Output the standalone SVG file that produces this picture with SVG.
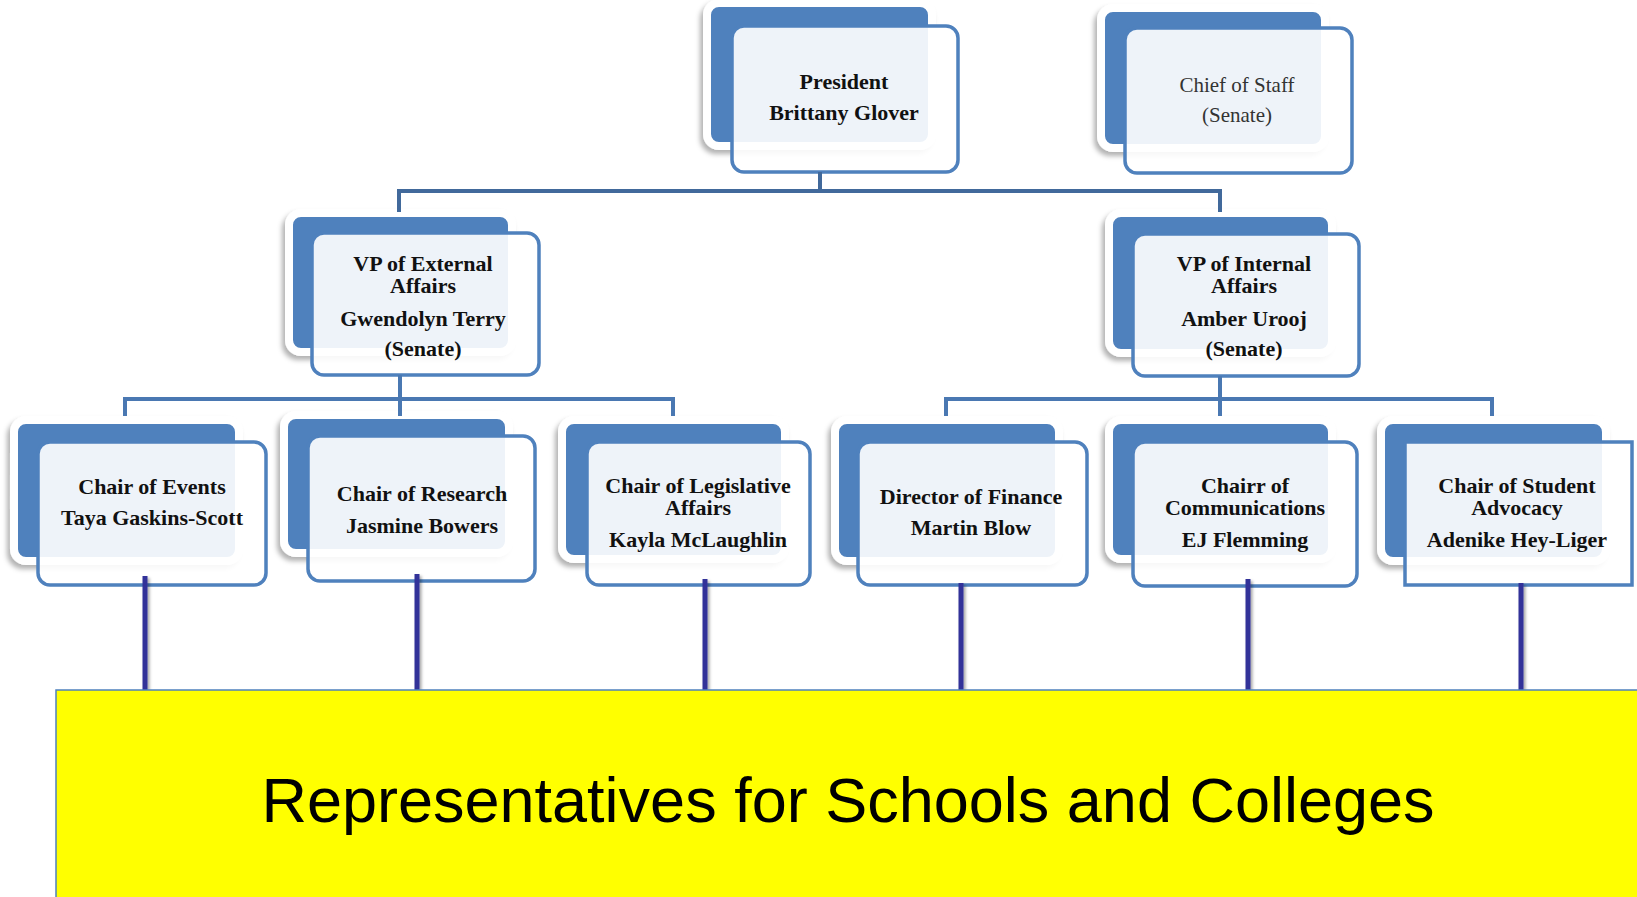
<svg xmlns="http://www.w3.org/2000/svg" width="1637" height="897" viewBox="0 0 1637 897">
<defs>
<filter id="sh" x="-10%" y="-10%" width="120%" height="125%">
<feDropShadow dx="-3" dy="4" stdDeviation="2.5" flood-color="#000" flood-opacity="0.3"/>
</filter>
<filter id="lsh" filterUnits="userSpaceOnUse" x="0" y="500" width="1637" height="250">
<feDropShadow dx="2" dy="2" stdDeviation="1.5" flood-color="#000" flood-opacity="0.35"/>
</filter>
</defs>
<style>
.back{fill:#4F81BD;stroke:#fff;stroke-width:8;filter:url(#sh)}
.front{fill:#fff;fill-opacity:0.9;stroke:#4F81BD;stroke-width:3.5}
.t{font-family:"Liberation Serif",serif;font-size:22px;font-weight:bold;fill:#111;text-anchor:middle}
.r{font-family:"Liberation Serif",serif;font-size:21px;fill:#333;text-anchor:middle}
.tree{fill:none;stroke:#4A78B2;stroke-width:4}
.tree0{fill:none;stroke:#41699B;stroke-width:4}
.rep{fill:#333399}
</style>
<rect width="1637" height="897" fill="#fff"/>

<g id="president">
<rect class="back" x="707" y="3" width="225" height="143" rx="12"/>
<rect class="front" x="732" y="26" width="226" height="146" rx="12"/>
<text class="t" x="844" y="89">President</text>
<text class="t" x="844" y="120">Brittany Glover</text>
</g>

<g id="chief-of-staff">
<rect class="back" x="1101" y="8" width="224" height="140" rx="12"/>
<rect class="front" x="1125" y="28" width="227" height="145" rx="12"/>
<text class="r" x="1237" y="92">Chief of Staff</text>
<text class="r" x="1237" y="122">(Senate)</text>
</g>

<g id="vp-external">
<rect class="back" x="289" y="213" width="223" height="139" rx="12"/>
<rect class="front" x="312" y="233" width="227" height="142" rx="12"/>
<text class="t" x="423" y="271">VP of External</text>
<text class="t" x="423" y="293">Affairs</text>
<text class="t" x="423" y="326">Gwendolyn Terry</text>
<text class="t" x="423" y="356">(Senate)</text>
</g>

<g id="vp-internal">
<rect class="back" x="1109" y="213" width="223" height="140" rx="12"/>
<rect class="front" x="1133" y="234" width="226" height="142" rx="12"/>
<text class="t" x="1244" y="271">VP of Internal</text>
<text class="t" x="1244" y="293">Affairs</text>
<text class="t" x="1244" y="326">Amber Urooj</text>
<text class="t" x="1244" y="356">(Senate)</text>
</g>

<g id="chair-events">
<rect class="back" x="14" y="420" width="225" height="141" rx="12"/>
<rect class="front" x="38" y="442" width="228" height="143" rx="12"/>
<text class="t" x="152" y="494">Chair of Events</text>
<text class="t" x="152" y="525">Taya Gaskins-Scott</text>
</g>

<g id="chair-research">
<rect class="back" x="284" y="415" width="225" height="138" rx="12"/>
<rect class="front" x="308" y="436" width="227" height="145" rx="12"/>
<text class="t" x="422" y="501">Chair of Research</text>
<text class="t" x="422" y="533">Jasmine Bowers</text>
</g>

<g id="chair-legislative">
<rect class="back" x="562" y="420" width="223" height="139" rx="12"/>
<rect class="front" x="587" y="442" width="223" height="143" rx="12"/>
<text class="t" x="698" y="493">Chair of Legislative</text>
<text class="t" x="698" y="515">Affairs</text>
<text class="t" x="698" y="547">Kayla McLaughlin</text>
</g>

<g id="director-finance">
<rect class="back" x="835" y="420" width="224" height="141" rx="12"/>
<rect class="front" x="858" y="442" width="229" height="143" rx="12"/>
<text class="t" x="971" y="504">Director of Finance</text>
<text class="t" x="971" y="535">Martin Blow</text>
</g>

<g id="chair-communications">
<rect class="back" x="1109" y="420" width="223" height="139" rx="12"/>
<rect class="front" x="1133" y="442" width="224" height="144" rx="12"/>
<text class="t" x="1245" y="493">Chairr of</text>
<text class="t" x="1245" y="515">Communications</text>
<text class="t" x="1245" y="547">EJ Flemming</text>
</g>

<g id="chair-advocacy">
<rect class="back" x="1381" y="420" width="225" height="141" rx="12"/>
<rect class="front" x="1405" y="442" width="227" height="143"/>
<text class="t" x="1517" y="493">Chair of Student</text>
<text class="t" x="1517" y="515">Advocacy</text>
<text class="t" x="1517" y="547">Adenike Hey-Liger</text>
</g>

<g id="connectors">
<path class="tree0" d="M820 172 V191 M399 212 V191 H1220 V212"/>
<path class="tree" d="M400 375 V399 M125 416 V399 H673 V416 M400 399 V416"/>
<path class="tree" d="M1220 376 V399 M946 416 V399 H1492 V416 M1220 399 V416"/>
<g filter="url(#lsh)">
<rect class="rep" x="142.5" y="576" width="5" height="115"/>
<rect class="rep" x="414.5" y="574" width="5" height="117"/>
<rect class="rep" x="702.5" y="579" width="5" height="112"/>
<rect class="rep" x="958.5" y="583" width="5" height="109"/>
<rect class="rep" x="1245.5" y="579" width="5" height="112"/>
<rect class="rep" x="1518.5" y="583" width="5" height="110"/>
</g>
</g>

<g id="representatives">
<rect x="56" y="690" width="1600" height="230" fill="#FFFF00" stroke="#4F81BD" stroke-width="1.5"/>
<text x="848" y="822" font-family="Liberation Sans, Arial, sans-serif" font-size="63" fill="#000" text-anchor="middle">Representatives for Schools and Colleges</text>
</g>
</svg>
